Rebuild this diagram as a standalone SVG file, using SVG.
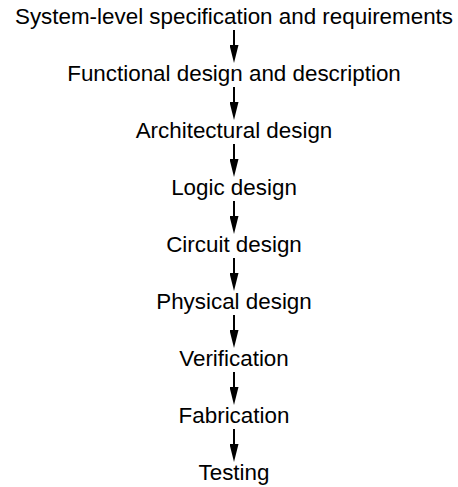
<svg xmlns="http://www.w3.org/2000/svg" width="458" height="487" viewBox="0 0 458 487">
<style>
.t{font-family:"Liberation Sans",Arial,sans-serif;font-size:22.4px;fill:#000;text-anchor:middle}
.c{stroke:#000;stroke-width:2;fill:none}
</style>
<defs>
<marker id="ah" markerUnits="userSpaceOnUse" markerWidth="18" markerHeight="9" refX="6" refY="4.5" orient="auto">
<path d="M0,0 L18,4.5 L0,9 z" fill="#000"/>
</marker>
</defs>
<rect width="458" height="487" fill="#fff"/>
<g id="n1"><text class="t" x="234" y="24">System-level specification and requirements</text></g>
<g id="n2"><text class="t" x="234" y="81">Functional design and description</text></g>
<g id="n3"><text class="t" x="234" y="138">Architectural design</text></g>
<g id="n4"><text class="t" x="234" y="195">Logic design</text></g>
<g id="n5"><text class="t" x="234" y="252">Circuit design</text></g>
<g id="n6"><text class="t" x="234" y="309">Physical design</text></g>
<g id="n7"><text class="t" x="234" y="366">Verification</text></g>
<g id="n8"><text class="t" x="234" y="423">Fabrication</text></g>
<g id="n9"><text class="t" x="234" y="480">Testing</text></g>
<g id="connectors">
<line class="c" x1="234" y1="30" x2="234" y2="51" marker-end="url(#ah)"/>
<line class="c" x1="234" y1="87" x2="234" y2="108" marker-end="url(#ah)"/>
<line class="c" x1="234" y1="144" x2="234" y2="165" marker-end="url(#ah)"/>
<line class="c" x1="234" y1="201" x2="234" y2="222" marker-end="url(#ah)"/>
<line class="c" x1="234" y1="258" x2="234" y2="279" marker-end="url(#ah)"/>
<line class="c" x1="234" y1="315" x2="234" y2="336" marker-end="url(#ah)"/>
<line class="c" x1="234" y1="372" x2="234" y2="393" marker-end="url(#ah)"/>
<line class="c" x1="234" y1="429" x2="234" y2="450" marker-end="url(#ah)"/>
</g>
</svg>
